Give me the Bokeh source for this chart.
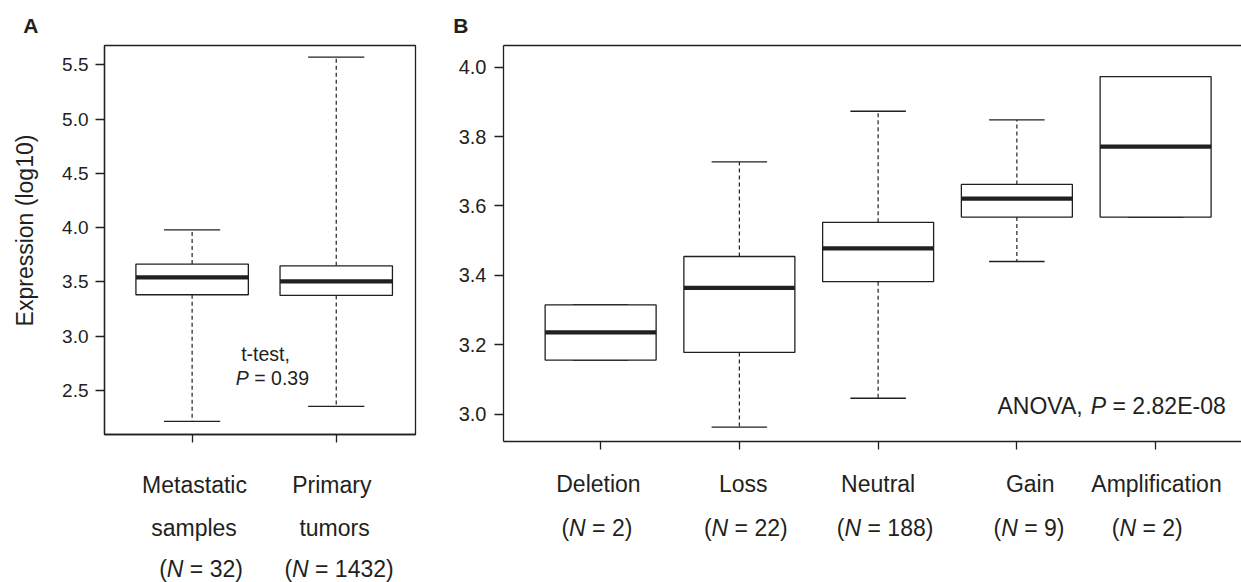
import math
from bokeh.plotting import figure
from bokeh.models import Range1d, FixedTicker, LinearAxis, PrintfTickFormatter
from bokeh.core.properties import value
from bokeh.layouts import row, column
from bokeh.embed import file_html
from bokeh.resources import INLINE

# ---------------- data: panel A ----------------
a_line1 = ["Metastatic", "Primary"]
a_line2 = ["samples", "tumors"]
a_n = [32, 1432]
a_low = [2.216, 2.354]
a_q1 = [3.382, 3.376]
a_med = [3.542, 3.505]
a_q3 = [3.665, 3.649]
a_high = [3.980, 5.571]
a_yticks = [2.5, 3.0, 3.5, 4.0, 4.5, 5.0, 5.5]
a_test = "t-test,"
a_p = "0.39"
a_ylabel = "Expression (log10)"

# ---------------- data: panel B ----------------
b_groups = ["Deletion", "Loss", "Neutral", "Gain", "Amplification"]
b_n = [2, 22, 188, 9, 2]
b_low = [3.156, 2.9625, 3.046, 3.440, 3.568]
b_q1 = [3.156, 3.178, 3.382, 3.568, 3.568]
b_med = [3.236, 3.364, 3.478, 3.621, 3.771]
b_q3 = [3.315, 3.4545, 3.553, 3.662, 3.973]
b_high = [3.315, 3.727, 3.873, 3.848, 3.973]
b_yticks = [3.0, 3.2, 3.4, 3.6, 3.8, 4.0]
b_test = "ANOVA,"
b_p = "2.82E-08"

INK = "#231f20"
FONT = "Liberation Sans"
H = 582  # page height; strip coordinates use Y = H - page_y
SHIFT = 0.33  # baseline correction (em) for the renderer's text placement

# Arial / Liberation Sans advance widths (per 1000 em)
ARIAL = {" ": 278, "(": 333, ")": 333, "=": 584, ",": 278, ".": 278, "-": 333,
         "N": 722, "P": 667, "A": 667, "O": 778, "V": 667, "E": 667,
         "t": 278, "e": 556, "s": 500}
for d in "0123456789":
    ARIAL[d] = 556


def tw(s, size):
    return sum(ARIAL.get(c, 556) for c in s) / 1000.0 * size


def blank_fig(width, height, x_range, y_range, left=0, right=0):
    f = figure(width=width, height=height, title=None, output_backend="svg", toolbar_location=None,
               x_range=x_range, y_range=y_range, x_axis_location=None, y_axis_location=None,
               min_border_left=left, min_border_right=right, min_border_top=0, min_border_bottom=0)
    f.grid.visible = False
    f.outline_line_color = None
    f.background_fill_color = "white"
    f.border_fill_color = "white"
    return f


def txt(p, xs, base_py, texts, size, style="normal", align="left", dx=None):
    """Place texts whose baseline sits at page pixel row base_py (strip figures)."""
    y = H - base_py + SHIFT * size
    kw = {}
    if dx is not None:
        kw["x_offset"] = dx
    p.text(x=xs, y=[y] * len(xs), text=texts, text_font=value(FONT), text_font_size=value(f"{size}px"),
           text_font_style=style, text_color=INK, text_align=align,
           text_baseline="alphabetic", **kw)


def mixed(p, parts, x, base_py, dx, size, center=False):
    total = sum(tw(t, size) for t, _ in parts)
    pos = dx - total / 2.0 if center else dx
    for t, st in parts:
        if t.strip():
            txt(p, [x], base_py, [t], size, style=st, dx=[pos])
        pos += tw(t, size)


def mixed_in_frame(p, parts, x0, y0, dx, dy_px, size):
    """Text inside a plot frame: anchored at the frame corner (x0, y0), offset in pixels."""
    pos = dx
    for t, st in parts:
        if t.strip():
            p.text(x=[x0], y=[y0], text=[t], text_font=value(FONT), text_font_size=value(f"{size}px"),
                   text_font_style=st, text_color=INK, text_baseline="alphabetic",
                   x_offset=[pos], y_offset=[-dy_px - SHIFT * size])
        pos += tw(t, size)


def n_parts(n):
    return [("(", "normal"), ("N", "italic"), (" ", "normal"), ("=", "normal"),
            (" ", "normal"), (f"{n})", "normal")]


def p_parts(prefix, pval):
    parts = []
    if prefix:
        parts += [(prefix, "normal"), (" ", "normal")]
    return parts + [("P", "italic"), (" ", "normal"), ("=", "normal"), (" ", "normal"), (pval, "normal")]


def style_axis(ax, size, standoff, tick=9):
    ax.axis_line_color = INK
    ax.axis_line_width = 1.3
    ax.major_tick_line_color = INK
    ax.major_tick_line_width = 1.3
    ax.major_tick_in = 0
    ax.major_tick_out = tick
    ax.minor_tick_in = 0
    ax.minor_tick_out = 0
    ax.major_label_text_font = FONT
    ax.major_label_text_font_size = f"{size}px"
    ax.major_label_text_color = INK
    ax.major_label_standoff = standoff


def draw_boxes(p, xs, low, q1, med, q3, high, bw):
    hw = bw / 2.0
    cw = bw / 4.0
    p.segment(x0=xs, x1=xs, y0=q3, y1=high, line_color=INK, line_width=1.2, line_dash="4 3")
    p.segment(x0=xs, x1=xs, y0=q1, y1=low, line_color=INK, line_width=1.2, line_dash="4 3")
    p.segment(x0=[x - cw for x in xs], x1=[x + cw for x in xs], y0=high, y1=high,
              line_color=INK, line_width=1.3)
    p.segment(x0=[x - cw for x in xs], x1=[x + cw for x in xs], y0=low, y1=low,
              line_color=INK, line_width=1.3)
    p.quad(left=[x - hw for x in xs], right=[x + hw for x in xs], bottom=q1, top=q3,
           fill_color="white", line_color=INK, line_width=1.3)
    p.segment(x0=[x - hw for x in xs], x1=[x + hw for x in xs], y0=med, y1=med,
              line_color=INK, line_width=4.2, line_cap="butt")


# ---------------- top strip (panel letters) ----------------
top = blank_fig(1241, 44, Range1d(0, 1241), Range1d(H - 44, H))
txt(top, [22.7], 32.3, ["A"], 21, style="bold")
txt(top, [452.7], 32.0, ["B"], 21, style="bold")

# ---------------- left strip (y-axis title) ----------------
left = blank_fig(40, 538, Range1d(0, 40), Range1d(0, H - 44))
left.text(x=[32 - SHIFT * 23], y=[H - 230], text=[a_ylabel], text_font=value(FONT),
          text_font_size=value("23px"), text_color=INK, text_align="center",
          text_baseline="alphabetic", angle=math.pi / 2)

# ---------------- Panel A ----------------
ax_pos = [i + 1 for i in range(len(a_n))]
A_X0, A_Y0 = 0.392, 2.095
pA = figure(width=400, height=416, title=None, output_backend="svg", toolbar_location=None,
            x_range=Range1d(A_X0, 2.55), y_range=Range1d(A_Y0, 5.678),
            min_border_left=64, min_border_right=25, min_border_top=1, min_border_bottom=26)
pA.grid.visible = False
pA.outline_line_color = INK
pA.outline_line_width = 1.3
pA.background_fill_color = "white"
pA.border_fill_color = "white"
style_axis(pA.yaxis[0], 19, 7)
pA.yaxis[0].ticker = FixedTicker(ticks=a_yticks)
pA.yaxis[0].formatter = PrintfTickFormatter(format="%.1f")
style_axis(pA.xaxis[0], 0, 0, tick=8)
pA.xaxis[0].ticker = FixedTicker(ticks=ax_pos)
pA.xaxis[0].major_label_overrides = {x: "" for x in ax_pos}
pA.xaxis[0].major_label_text_font_size = "0px"

draw_boxes(pA, ax_pos, a_low, a_q1, a_med, a_q3, a_high, 0.78)

mixed_in_frame(pA, [(a_test, "normal")], A_X0, A_Y0, 136.7, 434 - 360, 19.5)
mixed_in_frame(pA, p_parts("", a_p), A_X0, A_Y0, 131.3, 434 - 384, 19.5)

# ---------------- Panel A labels ----------------
lA = blank_fig(400, 122, pA.x_range, Range1d(0, 122), left=64, right=25)
a_dx1 = [2.4, -4.4]
a_dx2 = [1.9, -1.7]
a_dx3 = [8.9, 2.8]
# strip lA spans page rows 460..582; its y range is in page-pixel units from the page bottom
txt(lA, ax_pos, 492.3, a_line1, 23, align="center", dx=a_dx1)
txt(lA, ax_pos, 535.0, a_line2, 23, align="center", dx=a_dx2)
for i, x in enumerate(ax_pos):
    mixed(lA, n_parts(a_n[i]), x, 576.5, a_dx3[i], 23, center=True)

# ---------------- Panel B ----------------
bx_pos = [i + 1 for i in range(len(b_n))]
B_X0, B_Y0 = 0.3, 2.9213
pB = figure(width=801, height=416, title=None, output_backend="svg", toolbar_location=None,
            x_range=Range1d(B_X0, 5.619), y_range=Range1d(B_Y0, 4.0625),
            min_border_left=63, min_border_right=0, min_border_top=1, min_border_bottom=19)
pB.grid.visible = False
pB.outline_line_color = None
pB.background_fill_color = "white"
pB.border_fill_color = "white"
style_axis(pB.yaxis[0], 20, 8)
pB.yaxis[0].ticker = FixedTicker(ticks=b_yticks)
pB.yaxis[0].formatter = PrintfTickFormatter(format="%.1f")
style_axis(pB.xaxis[0], 0, 0, tick=8)
pB.xaxis[0].ticker = FixedTicker(ticks=bx_pos)
pB.xaxis[0].major_label_overrides = {x: "" for x in bx_pos}
pB.xaxis[0].major_label_text_font_size = "0px"
top_axis = LinearAxis(ticker=FixedTicker(ticks=[]), axis_line_color=INK, axis_line_width=1.3,
                      major_tick_out=0, major_tick_in=0, minor_tick_out=0, minor_tick_in=0,
                      major_label_text_font_size="0px", major_label_standoff=0)
pB.add_layout(top_axis, "above")

draw_boxes(pB, bx_pos, b_low, b_q1, b_med, b_q3, b_high, 0.8)

mixed_in_frame(pB, p_parts(b_test, b_p), B_X0, B_Y0, 494, 441 - 413.3, 23)

# ---------------- Panel B labels ----------------
lB = blank_fig(801, 122, pB.x_range, Range1d(0, 122), left=63, right=0)
b_dx1 = [-2.2, 3.9, 0.0, 13.3, 0.9]
b_dx2 = [-3.7, 6.4, 7.0, 12.1, -8.4]
txt(lB, bx_pos, 490.7, b_groups, 23, align="center", dx=b_dx1)
for i, x in enumerate(bx_pos):
    mixed(lB, n_parts(b_n[i]), x, 535.0, b_dx2[i], 23, center=True)

layout = column(top, row(left, column(pA, lA), column(pB, lB)))
open("out.html", "w").write(file_html(layout, INLINE))
